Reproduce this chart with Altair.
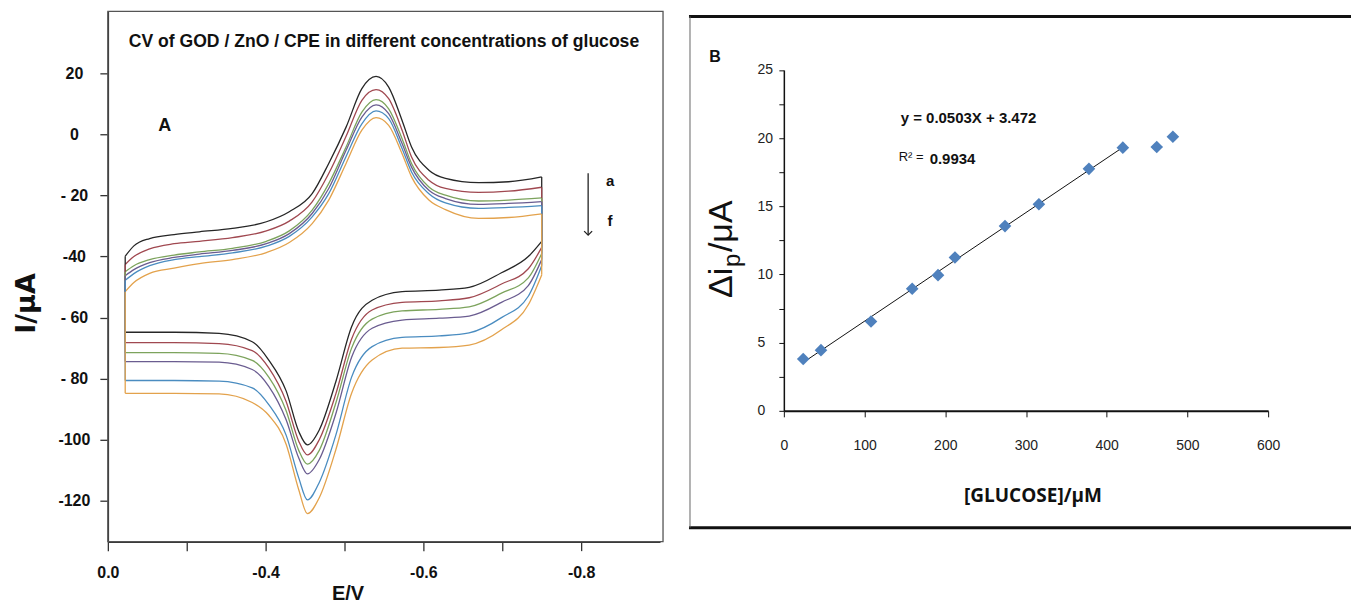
import altair as alt
import pandas as pd

# ---------------- Panel A : cyclic voltammograms ----------------
curve_ids = ["a", "b", "c", "d", "e", "f"]
curve_colors = ["#262626", "#a04850", "#7ca35c", "#6a5c90", "#4a8cc0", "#e3a24c"]

# forward (upper) branch, E in V
E_fwd = [-0.022, -0.033, -0.053, -0.084, -0.116, -0.158, -0.201, -0.230, -0.259, -0.280,
         -0.302, -0.322, -0.340, -0.356, -0.373, -0.385, -0.407, -0.428, -0.470, -0.508, -0.550]
I_fwd_a = [-39.9, -36.5, -34.1, -32.8, -31.9, -30.8, -28.6, -25.3, -19.4, -9.5, 2.4, 15.0, 19.0, 15.5, 4.6, -4.1, -11.7, -14.4, -15.8, -15.5, -13.9]
I_fwd_b = [-42.6, -40.0, -37.5, -35.8, -35.0, -33.8, -31.6, -28.4, -22.1, -12.8, -0.6, 11.2, 14.7, 11.7, 1.4, -7.4, -15.0, -17.7, -19.0, -18.6, -17.3]
I_fwd_c = [-45.0, -43.0, -41.0, -39.5, -38.5, -37.3, -35.0, -31.6, -24.8, -16.1, -4.1, 7.3, 11.4, 8.4, -1.4, -9.5, -17.2, -19.9, -21.8, -21.5, -20.8]
I_fwd_d = [-46.3, -44.3, -42.0, -40.3, -39.2, -38.0, -35.8, -32.5, -25.9, -17.7, -5.2, 5.7, 9.7, 6.8, -3.0, -10.7, -18.3, -21.0, -22.9, -22.6, -22.0]
I_fwd_e = [-47.8, -45.6, -43.0, -41.0, -40.0, -38.8, -36.6, -33.4, -27.0, -19.4, -7.2, 3.5, 7.7, 5.2, -4.6, -12.3, -19.4, -22.4, -24.2, -23.9, -23.3]
I_fwd_f = [-51.5, -48.5, -45.5, -43.8, -42.3, -41.0, -38.7, -35.4, -29.2, -21.5, -9.5, 1.4, 5.5, 3.0, -6.3, -13.9, -21.5, -24.6, -27.5, -27.2, -26.0]

# reverse (lower) branch, from right to left
E_rev = [-0.550, -0.533, -0.499, -0.458, -0.420, -0.373, -0.335, -0.309, -0.289, -0.268,
         -0.253, -0.242, -0.226, -0.204, -0.183, -0.141, -0.084, -0.022]
I_rev_a = [-35.0, -40.0, -45.3, -50.1, -51.0, -51.5, -54.3, -63.0, -81.0, -96.8, -101.7, -97.3, -84.0, -73.9, -67.9, -65.2, -64.8, -64.8]
I_rev_b = [-37.0, -44.0, -49.0, -53.5, -54.5, -55.0, -57.5, -67.0, -85.0, -100.0, -105.0, -100.5, -87.5, -76.5, -70.8, -68.5, -68.2, -68.2]
I_rev_c = [-39.0, -47.0, -52.0, -56.5, -57.3, -57.8, -60.5, -70.0, -88.0, -103.5, -108.0, -103.5, -90.5, -79.5, -74.0, -71.7, -71.5, -71.5]
I_rev_d = [-41.0, -49.5, -55.0, -59.5, -60.2, -60.8, -63.5, -73.0, -91.5, -106.5, -111.2, -106.0, -93.5, -82.5, -77.0, -74.6, -74.4, -74.4]
I_rev_e = [-43.0, -53.0, -60.0, -65.0, -66.0, -66.5, -69.5, -79.5, -98.5, -114.0, -119.7, -112.5, -98.5, -88.5, -83.0, -80.8, -80.6, -80.6]
I_rev_f = [-46.0, -55.8, -64.0, -69.0, -69.8, -70.0, -73.9, -84.8, -103.3, -119.0, -124.2, -116.4, -101.5, -92.0, -87.8, -85.0, -84.8, -84.8]

x_tick_vals_A = [0, -0.1, -0.2, -0.3, -0.4, -0.5, -0.6]
x_tick_text_A = ["0.0", "", "-0.4", "", "-0.6", "", "-0.8"]
y_tick_vals_A = [20, 0, -20, -40, -60, -80, -100, -120]
y_tick_text_A = ["20", "0", "- 20", "-40", "- 60", "- 80", "-100", "-120"]

# ---------------- Panel B : calibration ----------------
conc = [24, 46, 108, 159, 191, 212, 274, 316, 378, 420, 462, 482]
dip = [3.8, 4.45, 6.55, 8.95, 9.95, 11.25, 13.55, 15.15, 17.75, 19.3, 19.35, 20.1]
in_fit = [True, True, True, True, True, True, True, True, True, True, False, False]
x_tick_vals_B = [0, 100, 200, 300, 400, 500, 600]
y_tick_vals_B = [0, 2.5, 5, 7.5, 10, 12.5, 15, 17.5, 20, 22.5, 25]


def label_expr(vals, texts, mult):
    parts = [f"round(datum.value*{mult})=={round(v * mult)} ? '{t}'" for v, t in zip(vals, texts)]
    return " : ".join(parts) + " : ''"


fwd = {"a": I_fwd_a, "b": I_fwd_b, "c": I_fwd_c, "d": I_fwd_d, "e": I_fwd_e, "f": I_fwd_f}
rev = {"a": I_rev_a, "b": I_rev_b, "c": I_rev_c, "d": I_rev_d, "e": I_rev_e, "f": I_rev_f}

rows = []
conn = []
for c in curve_ids:
    for e, i in zip(E_fwd, fwd[c]):
        rows.append({"curve": c, "branch": "fwd", "E": e, "I": i})
    for e, i in zip(E_rev, rev[c]):
        rows.append({"curve": c, "branch": "rev", "E": e, "I": i})
    conn.append({"curve": c, "E": E_fwd[0], "I1": fwd[c][0], "I2": rev[c][-1]})
    conn.append({"curve": c, "E": E_fwd[-1], "I1": fwd[c][-1], "I2": rev[c][0]})
cv = pd.DataFrame(rows)
cn = pd.DataFrame(conn)

H = 593
WA = 672
WB = 673

xA = alt.Scale(domain=[0, -0.7], range=[100, 653], nice=False, zero=False)
yA = alt.Scale(domain=[-133.4, 40.3], range=[534, 3], nice=False, zero=False)
colA = alt.Scale(domain=curve_ids, range=curve_colors)

xAxisA = alt.Axis(values=x_tick_vals_A, labelExpr=label_expr(x_tick_vals_A, x_tick_text_A, 10),
                  offset=-(H - 534), tickSize=9, tickWidth=1.3, tickColor="#333",
                  domainColor="#333", domainWidth=1.5, grid=False,
                  labelFont="Liberation Sans", labelFontSize=16, labelFontWeight="bold",
                  labelColor="#111", labelPadding=14, labelFlush=False, labelOverlap=False,
                  title="E/V", titleFont="Liberation Sans", titleFontSize=20, titleFontWeight="bold",
                  titleColor="#111", titleX=340, titleY=52, titleAlign="center", titleBaseline="middle")
yAxisA = alt.Axis(values=y_tick_vals_A, labelExpr=label_expr(y_tick_vals_A, y_tick_text_A, 1),
                  offset=-100, tickSize=8, tickWidth=1.3, tickColor="#333",
                  domainColor="#333", domainWidth=1.5, grid=False,
                  labelFont="Liberation Sans", labelFontSize=16, labelFontWeight="bold",
                  labelColor="#111", labelAlign="center", labelBaseline="middle", labelPadding=26,
                  labelFlush=False, labelOverlap=False,
                  title="I/μA", titleFont="DejaVu Sans", titleFontSize=27, titleFontWeight="bold",
                  titleColor="#111", titleX=-81, titleY=295, titleAngle=270,
                  titleAlign="center", titleBaseline="middle")

frameA = alt.Chart(pd.DataFrame({"k": [0]})).mark_rect(fillOpacity=0, stroke="#555", strokeWidth=1.3).encode(
    x=alt.value(100), x2=alt.value(656), y=alt.value(3), y2=alt.value(534))

linesA = alt.Chart(cv).mark_line(interpolate="monotone", strokeWidth=1.3).encode(
    x=alt.X("E:Q", scale=xA, axis=xAxisA),
    y=alt.Y("I:Q", scale=yA, axis=yAxisA),
    color=alt.Color("curve:N", scale=colA, legend=None),
    detail="branch:N",
)
connA = alt.Chart(cn).mark_rule(strokeWidth=1.3).encode(
    x=alt.X("E:Q", scale=xA),
    y=alt.Y("I1:Q", scale=yA),
    y2="I2:Q",
    color=alt.Color("curve:N", scale=colA, legend=None),
)


def txt(t, x, y, size, weight="bold", align="left", font="Liberation Sans", angle=0, baseline="middle", color="#111"):
    props = dict(align=align, baseline=baseline, fontSize=size, fontWeight=weight, font=font, color=color)
    if angle:
        props["angle"] = angle
    return alt.Chart(pd.DataFrame({"t": [t]})).mark_text(**props).encode(
        x=alt.value(x), y=alt.value(y), text="t:N")


titleA = txt("CV of GOD / ZnO / CPE in different concentrations of glucose", 121, 33.5, 17.6)
labA = txt("A", 157, 118, 18, align="center")
lab_a = txt("a", 603, 173, 15, align="center")
lab_f = txt("f", 603, 213, 15, align="center")
arrow = alt.Chart(pd.DataFrame({"k": [0]})).mark_rule(color="#222", strokeWidth=1.3).encode(
    x=alt.value(581), y=alt.value(165), y2=alt.value(227))
arrowhead = alt.Chart(pd.DataFrame({"k": [0]})).mark_point(
    shape="M-1,-1L0,0L1,-1", filled=False, size=64, color="#222", strokeWidth=1.3, opacity=1).encode(
    x=alt.value(581), y=alt.value(227))

panelA = alt.layer(frameA, linesA, connA, titleA, labA, lab_a, lab_f, arrow, arrowhead).properties(
    width=WA, height=H)

# ---------------- Panel B chart ----------------
cal = pd.DataFrame({"conc": conc, "dip": dip, "fit": in_fit})

xB = alt.Scale(domain=[0, 600], range=[105, 590], nice=False, zero=False)
yB = alt.Scale(domain=[0, 25], range=[403, 61.6], nice=False, zero=False)

xAxisB = alt.Axis(values=x_tick_vals_B, offset=-(H - 403), tickSize=6, tickColor="#111",
                  domainColor="#111", domainWidth=2, grid=False,
                  labelFont="Liberation Sans", labelFontSize=14, labelColor="#222",
                  labelPadding=22, labelFlush=False,
                  title="[GLUCOSE]/μM", titleFont="Open Sans", titleFontSize=19, titleFontWeight="bold",
                  titleColor="#111", titleX=354, titleY=85, titleAlign="center", titleBaseline="middle")
yAxisB = alt.Axis(values=y_tick_vals_B, labelExpr="datum.value % 5 == 0 ? datum.value : ''",
                  offset=-105, tickSize=5, tickColor="#111", domainColor="#111", domainWidth=1.5,
                  grid=False, labelFont="Liberation Sans", labelFontSize=14, labelColor="#222",
                  labelAlign="left", labelBaseline="middle", labelPadding=22, labelFlush=False,
                  title=None)

pointsB = alt.Chart(cal).mark_point(shape="diamond", filled=True, size=160, color="#4F81BD", opacity=1).encode(
    x=alt.X("conc:Q", scale=xB, axis=xAxisB),
    y=alt.Y("dip:Q", scale=yB, axis=yAxisB),
)
fitB = alt.Chart(cal).transform_filter("datum.fit").transform_regression("conc", "dip").mark_line(
    color="#111", strokeWidth=1).encode(
    x=alt.X("conc:Q", scale=xB),
    y=alt.Y("dip:Q", scale=yB),
)

top_line = alt.Chart(pd.DataFrame({"k": [0]})).mark_rule(color="#111", strokeWidth=3).encode(
    x=alt.value(10), x2=alt.value(WB), y=alt.value(8))
bot_line = alt.Chart(pd.DataFrame({"k": [0]})).mark_rule(color="#111", strokeWidth=3).encode(
    x=alt.value(10), x2=alt.value(WB), y=alt.value(520))
left_line = alt.Chart(pd.DataFrame({"k": [0]})).mark_rule(color="#666", strokeWidth=1).encode(
    x=alt.value(11), y=alt.value(8), y2=alt.value(520))

labB = txt("B", 36, 49, 16, align="center")
eq = txt("y = 0.0503X + 3.472", 222, 110, 15)
r2a = txt("R² =", 220, 149, 13, weight="normal")
r2b = txt("0.9934", 251, 151, 15)
yt1 = txt("Δi", 53, 290, 34, weight="normal", angle=270, baseline="alphabetic")
yt2 = txt("p", 61, 259, 24, weight="normal", angle=270, baseline="alphabetic")
yt3 = txt("/μA", 53, 244, 34, weight="normal", angle=270, baseline="alphabetic")

panelB = alt.layer(top_line, bot_line, left_line, fitB, pointsB, labB, eq, r2a, r2b, yt1, yt2, yt3).properties(
    width=WB, height=H)

chart = alt.hconcat(panelA, panelB, spacing=0).properties(
    padding=0, background="white").configure_view(stroke=None, strokeWidth=0)

chart.save("out.html", embed_options={"renderer": "svg", "actions": False})
